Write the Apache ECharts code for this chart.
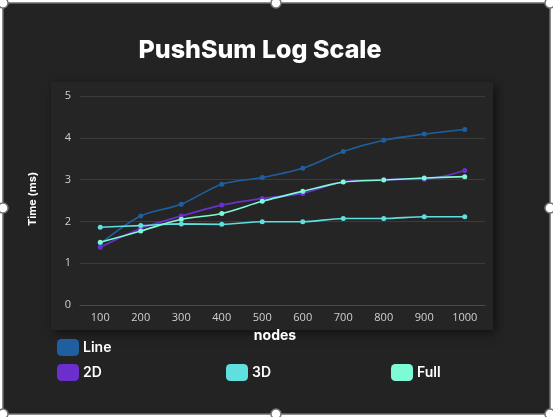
<!DOCTYPE html>
<html>
<head>
<meta charset="utf-8">
<script src="https://cdn.jsdelivr.net/npm/echarts@6/dist/echarts.min.js"></script>
<style>
html,body{margin:0;padding:0;background:#fff;}
#c{width:553px;height:417px;}
</style>
</head>
<body>
<div id="c"></div>
<script>
var categories = ['100','200','300','400','500','600','700','800','900','1000'];
var seriesNames = ['Line','2D','3D','Full'];
var lineData = [1.47,2.13,2.41,2.89,3.05,3.27,3.67,3.94,4.09,4.20];
var twoDData = [1.38,1.83,2.13,2.39,2.55,2.67,2.95,3.00,3.01,3.22];
var threeDData = [1.86,1.90,1.94,1.93,1.99,1.99,2.07,2.07,2.11,2.11];
var fullData = [1.50,1.77,2.05,2.19,2.48,2.72,2.94,2.99,3.04,3.07];
var colors = ['#1f5f9f','#6a2fcc','#5fdfe0','#7ffad6'];

var chart = echarts.init(document.getElementById('c'));
var font = 'Inter, "Open Sans", sans-serif';
function handle(x,y){
  return {type:'circle', shape:{cx:x,cy:y,r:5}, style:{fill:'#fff',stroke:'#777',lineWidth:1.5}, z:100};
}
function mkSeries(name, data, color){
  return {
    name:name, type:'line', data:data, smooth:0.3,
    symbol:'circle', symbolSize:5,
    lineStyle:{color:color,width:1.6},
    itemStyle:{color:color},
    z:5
  };
}
function mkLegend(name, left, top){
  return {
    data:[name], left:left, top:top, icon:'roundRect',
    itemWidth:22, itemHeight:17, itemGap:0,
    textStyle:{color:'#ffffff', fontSize:14, fontWeight:600, fontFamily:font, padding:[0,0,0,-1]},
    padding:0
  };
}
chart.setOption({
  backgroundColor:'#ffffff',
  animation:false,
  color:colors,
  legend:[
    mkLegend(seriesNames[0],57,339),
    mkLegend(seriesNames[1],57,364),
    mkLegend(seriesNames[2],226,364),
    mkLegend(seriesNames[3],391,364)
  ],
  grid:{left:80,right:68,top:96,bottom:112},
  xAxis:{
    type:'category', data:categories, boundaryGap:true,
    axisLine:{show:true,lineStyle:{color:'#4a4a4a',width:1}},
    axisTick:{show:false},
    axisLabel:{color:'#d0d0d0',fontSize:11,fontFamily:'"Open Sans", sans-serif',margin:7}
  },
  yAxis:{
    type:'value', min:0, max:5, interval:1,
    axisLine:{show:false}, axisTick:{show:false},
    axisLabel:{color:'#d0d0d0',fontSize:11,fontFamily:'"Open Sans", sans-serif',margin:9},
    splitLine:{lineStyle:{color:'#3b3b3b',width:1}}
  },
  graphic:[
    {type:'rect', shape:{x:3,y:3,width:547,height:411}, style:{fill:'#232323',stroke:'#6a6a6a',lineWidth:1.5}, z:-10},
    {type:'rect', shape:{x:51,y:82,width:442,height:248}, style:{fill:'#252525',shadowBlur:10,shadowColor:'rgba(0,0,0,0.55)',shadowOffsetX:3,shadowOffsetY:3}, z:-9},
    {type:'text', x:260, y:50, style:{text:'PushSum Log Scale', fill:'#ffffff', font:'800 25px '+font, textAlign:'center', textVerticalAlign:'middle'}, z:10},
    {type:'text', x:275, y:336, style:{text:'nodes', fill:'#ffffff', font:'bold 14px '+font, textAlign:'center', textVerticalAlign:'middle'}, z:10},
    {type:'text', x:33, y:199, rotation:Math.PI/2, style:{text:'Time (ms)', fill:'#ffffff', font:'bold 11px '+font, textAlign:'center', textVerticalAlign:'middle'}, z:10},
    handle(3,3), handle(276,3), handle(550,3),
    handle(3,208), handle(550,208),
    handle(3,414), handle(276,414), handle(550,414)
  ],
  series:[
    mkSeries(seriesNames[0], lineData, colors[0]),
    mkSeries(seriesNames[1], twoDData, colors[1]),
    mkSeries(seriesNames[2], threeDData, colors[2]),
    mkSeries(seriesNames[3], fullData, colors[3])
  ]
});
</script>
</body>
</html>
